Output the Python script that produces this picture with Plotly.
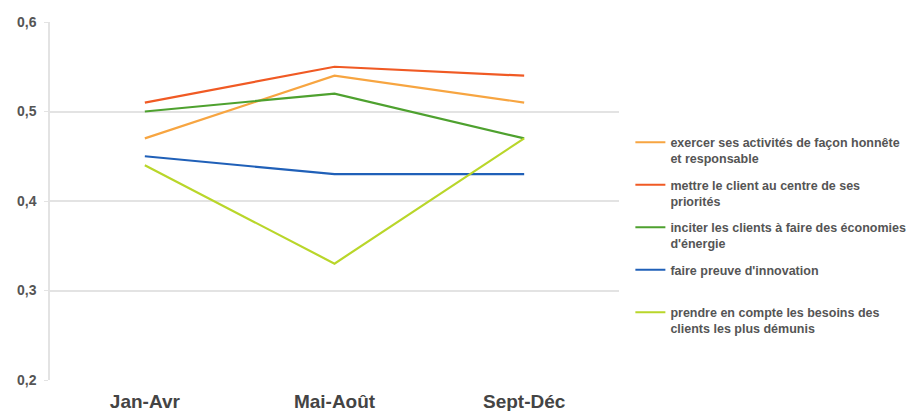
import plotly.graph_objects as go

categories = ["Jan-Avr", "Mai-Août", "Sept-Déc"]
series_names = [
    "exercer ses activités de façon honnête<br>et responsable",
    "mettre le client au centre de ses<br>priorités",
    "inciter les clients à faire des économies<br>d'énergie",
    "faire preuve d'innovation<br>\u00a0",
    "prendre en compte les besoins des<br>clients les plus démunis",
]
honnete = [0.47, 0.54, 0.51]
client_centre = [0.51, 0.55, 0.54]
economies = [0.50, 0.52, 0.47]
innovation = [0.45, 0.43, 0.43]
demunis = [0.44, 0.33, 0.47]
series_values = [honnete, client_centre, economies, innovation, demunis]
colors = ["#F7A541", "#F05A24", "#4EA12F", "#2060B8", "#B9D62A"]

fig = go.Figure()
for i, (name, vals, col) in enumerate(zip(series_names, series_values, colors)):
    fig.add_trace(go.Scatter(
        x=categories, y=vals, mode="lines", name=name,
        line=dict(color=col, width=2.2), legendgroup=f"g{i}",
    ))

fig.update_layout(
    width=908, height=403,
    margin=dict(l=42, r=297, t=14, b=31, autoexpand=False),
    paper_bgcolor="white", plot_bgcolor="white",
    separators=", ",
    font=dict(family="Liberation Sans, Arial, sans-serif", color="#555555"),
    showlegend=True,
    legend=dict(
        x=1.02, y=0.705, xanchor="left", yanchor="top",
        valign="top", tracegroupgap=7,
        font=dict(size=12.5, color="#555555", family="Liberation Sans, Arial, sans-serif", weight="bold"),
        bgcolor="rgba(0,0,0,0)",
    ),
    xaxis=dict(
        range=[-0.5, 2.5],
        showgrid=False, zeroline=False, showline=False,
        tickfont=dict(size=19, color="#444444", weight="bold"),
        ticks="", automargin=False, ticklabelstandoff=8,
    ),
    yaxis=dict(
        range=[0.2, 0.6], dtick=0.1, tickformat=".1f",
        showgrid=True, gridcolor="#E3E3E3", gridwidth=1.5,
        zeroline=False, showline=True, linecolor="#E3E3E3", linewidth=1.5,
        ticks="outside", ticklen=4, tickcolor="#E3E3E3",
        tickfont=dict(size=14, color="#555555", weight="bold"),
        automargin=False, ticklabelstandoff=5,
    ),
)

fig.write_html("out.html")
